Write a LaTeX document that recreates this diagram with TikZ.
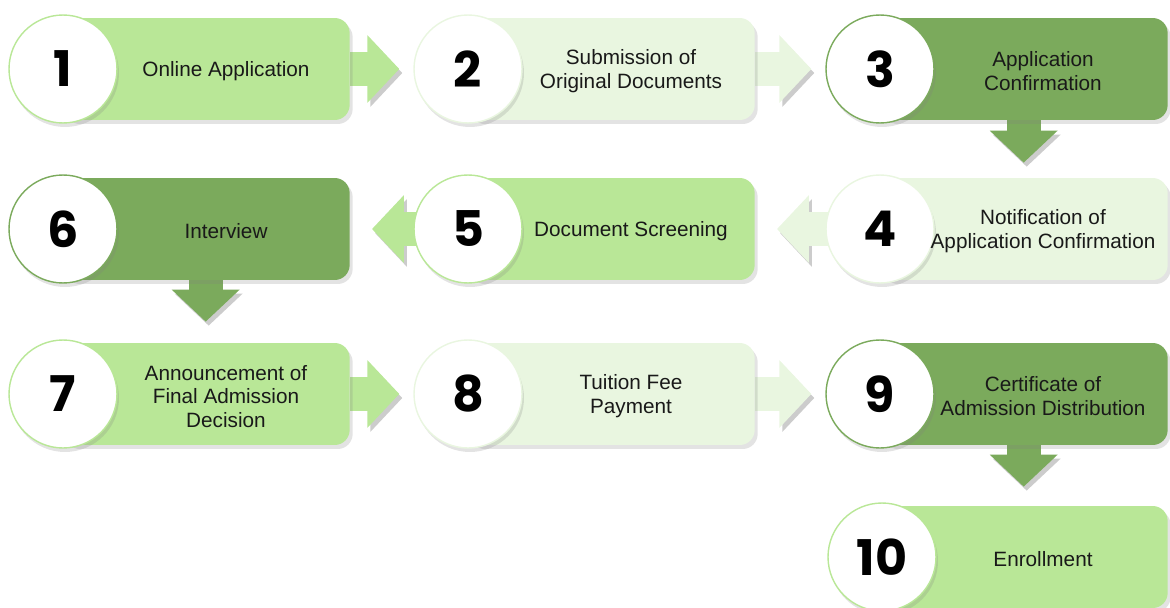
\documentclass[tikz,border=0pt]{standalone}
\usepackage{fontspec}
\setmainfont{Liberation Sans}
\newfontfamily\numfont{Poppins}
\usetikzlibrary{arrows.meta,shadows,backgrounds}

\definecolor{leaf}{HTML}{B9E797}
\definecolor{moss}{HTML}{7BAA5C}
\definecolor{mint}{HTML}{E9F6E0}

\begin{document}
\begin{tikzpicture}[x=0.02cm, y=-0.02cm,
  stepbox/.style={rectangle, rounded corners=0.3cm, fill=#1, minimum width=5.76cm, minimum height=2.04cm, anchor=east,
    drop shadow={shadow xshift=0.06cm, shadow yshift=-0.08cm, opacity=0.22}},
  badge/.style={circle, fill=white, draw=#1, line width=0.8pt, minimum size=2.16cm, inner sep=0pt,
    font=\numfont\bfseries\fontsize{28}{30}\selectfont,
    drop shadow={shadow xshift=0.04cm, shadow yshift=-0.08cm, opacity=0.22}},
  caption/.style={align=center, yshift=-0.05cm, font=\fontsize{11.8}{13.6}\selectfont, text=black!90},
  flow/.style={draw=#1, line width=0.68cm, -{Triangle[length=0.64cm, width=1.32cm]},
    preaction={draw=black!20, transform canvas={shift={(0.06cm,-0.08cm)}}}}]
  \useasboundingbox (0,0) rectangle (1170,608);

  % row 1
  \node[stepbox=leaf] (b1) at (350,69) {};
  \node[stepbox=mint] (b2) at (755,69) {};
  \node[stepbox=moss] (b3) at (1168,69) {};
  \node[badge=leaf] (n1) at (63,69) {1};
  \node[badge=mint] (n2) at (468,69) {2};
  \node[badge=moss] (n3) at (880,69) {3};
  \node[caption] (t1) at (226,69) {Online Application};
  \node[caption] (t2) at (631,69) {Submission of\\Original Documents};
  \node[caption] (t3) at (1043,69) {Application\\Confirmation};

  % row 2
  \node[stepbox=moss] (b6) at (350,229) {};
  \node[stepbox=leaf] (b5) at (755,229) {};
  \node[stepbox=mint] (b4) at (1168,229) {};
  \node[badge=moss] (n6) at (63,229) {6};
  \node[badge=leaf] (n5) at (468,229) {5};
  \node[badge=mint] (n4) at (880,229) {4};
  \node[caption] (t6) at (226,229) {Interview};
  \node[caption] (t5) at (631,229) {Document Screening};
  \node[caption] (t4) at (1043,229) {Notification of\\Application Confirmation};

  % row 3
  \node[stepbox=leaf] (b7) at (350,394) {};
  \node[stepbox=mint] (b8) at (755,394) {};
  \node[stepbox=moss] (b9) at (1168,394) {};
  \node[badge=leaf] (n7) at (63,394) {7};
  \node[badge=mint] (n8) at (468,394) {8};
  \node[badge=moss] (n9) at (880,394) {9};
  \node[caption] (t7) at (226,394) {Announcement of\\Final Admission\\Decision};
  \node[caption] (t8) at (631,394) {Tuition Fee\\Payment};
  \node[caption] (t9) at (1043,394) {Certificate of\\Admission Distribution};

  % row 4
  \node[stepbox=leaf] (b10) at (1168,557) {};
  \node[badge=leaf] (n10) at (882,557) {10};
  \node[caption] (t10) at (1043,557) {Enrollment};

  \begin{scope}[on background layer]
    \draw[flow=leaf, shorten >=0.28cm] (b1.east) -- (n2.west);
    \draw[flow=mint, shorten >=0.28cm] (b2.east) -- (n3.west);
    \draw[flow=moss, shorten >=0.30cm] (b3.south) -- (b4.north);
    \draw[flow=mint, shorten >=0.44cm] (n4.center) -- (b5.east);
    \draw[flow=leaf, shorten >=0.44cm] (n5.center) -- (b6.east);
    \draw[flow=moss, shorten >=0.42cm] (b6.south) -- (b7.north);
    \draw[flow=leaf, shorten >=0.28cm] (b7.east) -- (n8.west);
    \draw[flow=mint, shorten >=0.28cm] (b8.east) -- (n9.west);
    \draw[flow=moss, shorten >=0.38cm] (b9.south) -- (b10.north);
  \end{scope}
\end{tikzpicture}
\end{document}
